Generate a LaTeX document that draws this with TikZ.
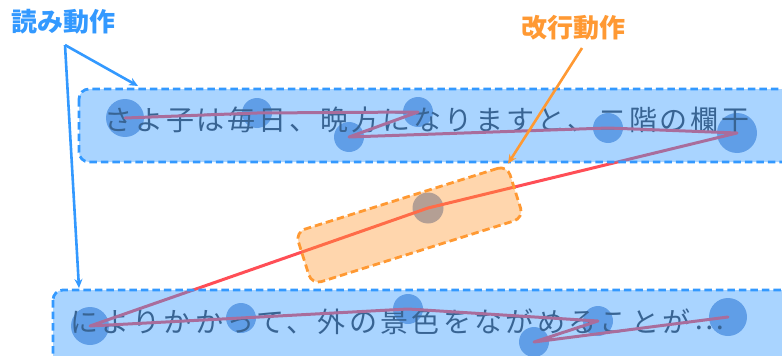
\documentclass[tikz,border=0pt]{standalone}
\usepackage{fontspec}
\newfontfamily\cjk[LetterSpace=10.5]{Noto Sans CJK JP}
\newfontfamily\cjkb[LetterSpace=12]{Noto Sans CJK JP}
\newfontfamily\cjklab{Noto Sans CJK JP}
\usetikzlibrary{arrows.meta}
\definecolor{lblue}{RGB}{51,153,255}
\definecolor{lorange}{RGB}{255,153,51}
\definecolor{fixc}{RGB}{130,163,214}
\definecolor{sweep}{RGB}{255,78,86}
\definecolor{txtc}{RGB}{60,62,70}
\tikzset{
  fixpt/.style={circle,fill=fixc,inner sep=0pt,minimum size=#1},
  fixpt/.default=30pt,
  path line/.style={draw=sweep,line width=3pt,line join=round,line cap=round},
  linebox/.style={draw=lblue,line width=2.8pt,dash pattern=on 7.5pt off 4pt,fill=lblue,fill opacity=0.42,draw opacity=1,rounded corners=10pt},
  nlbox/.style={draw=lorange,line width=2.8pt,dash pattern=on 7.5pt off 4pt,fill=lorange,fill opacity=0.4,draw opacity=1,rounded corners=10pt,inner sep=0pt,minimum width=222pt,minimum height=55pt,rotate=17.5},
  sent/.style={anchor=west,inner sep=0pt,text=txtc,font=\cjk\fontsize{28}{30}\selectfont},
  lab/.style={inner sep=0pt,font=\cjklab\bfseries\fontsize{26}{28}\selectfont},
  pointer/.style={line width=2.6pt,-{Stealth[length=9pt,width=8pt]}}
}
\begin{document}
\begin{tikzpicture}[x=1pt,y=-1pt]
\useasboundingbox (0,0) rectangle (782,356);
\clip (0,0) rectangle (782,356);
% fixations, top line
\node[fixpt=38pt] (t1) at (125,118) {};
\node[fixpt=30pt] (t2) at (257,113) {};
\node[fixpt=30pt] (t3) at (418,112) {};
\node[fixpt=30pt] (t4) at (349,137) {};
\node[fixpt=30pt] (t5) at (608,128) {};
\node[fixpt=40pt] (t6) at (737,133) {};
% fixation during line change
\node[fixpt=31pt] (o1) at (428,208) {};
% fixations, bottom line
\node[fixpt=38pt] (b1) at (90,326) {};
\node[fixpt=30pt] (b2) at (241,318) {};
\node[fixpt=30pt] (b3) at (408,309) {};
\node[fixpt=30pt] (b4) at (598,321) {};
\node[fixpt=30pt] (b5) at (534,342) {};
\node[fixpt=38pt] (b6) at (728,317) {};
% sentences
\node[sent] (s1) at (104,120) {さよ子は毎日、晩方になりますと、二階の欄干};
\node[sent,font=\cjkb\fontsize{28}{30}\selectfont] (s2) at (70,322) {によりかかって、外の景色をながめることが\hspace{4pt}\raisebox{3pt}{⋯}};
% scan path
\draw[path line] (t1.center) -- (t2.center) -- (t3.center) -- (t4.center) -- (t5.center) -- (t6.center) -- (o1.center) -- (b1.center) -- (b2.center) -- (b3.center) -- (b4.center) -- (b5.center) -- (b6.center);
% boxes
\path[linebox] (79,89) rectangle (810,162);
\path[linebox] (53,290) rectangle (810,380);
\node[nlbox] (nl) at (409.5,225) {};
% labels
\node[lab,text=lblue] (read) at (63,22) {読み動作};
\node[lab,text=lorange] (ret) at (573,28) {改行動作};
\coordinate (rs) at (65,45);
\coordinate (os) at (582,48);
\draw[pointer,draw=lblue,fill=lblue] (rs) -- (138,86);
\draw[pointer,draw=lblue,fill=lblue] (rs) -- (79,288);
\draw[pointer,draw=lorange,fill=lorange] (os) -- (nl.north east);
\end{tikzpicture}
\end{document}
